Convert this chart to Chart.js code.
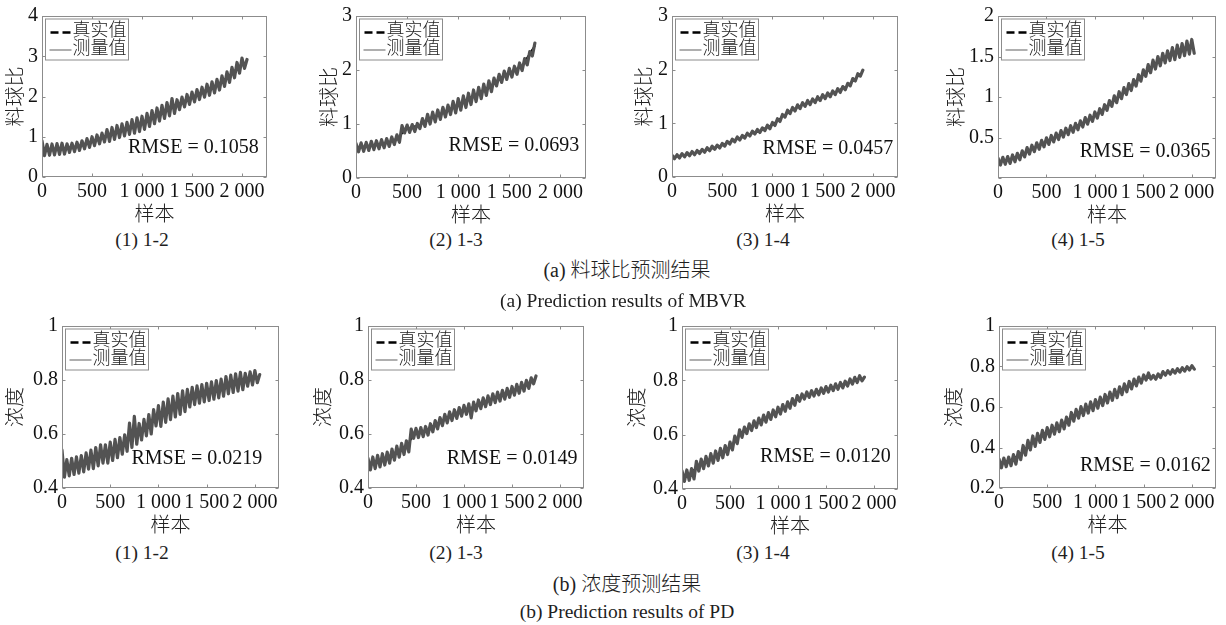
<!DOCTYPE html>
<html>
<head>
<meta charset="utf-8">
<script src="https://cdn.jsdelivr.net/npm/chart.js@4.4.1/dist/chart.umd.min.js"></script>
<style>
  html, body { margin: 0; padding: 0; background: #fff; }
  #fig { position: relative; width: 1226px; height: 625px; overflow: hidden; background: #fff; }
  #fig canvas { position: absolute; }
  .cap {
    position: absolute; transform: translate(-50%, -50%); white-space: nowrap;
    font-family: 'Liberation Serif', 'Noto Sans CJK SC', serif; font-size: 19.5px; font-weight: 300; color: #1e1e1e;
  }
</style>
</head>
<body>
<div id="fig"></div>
<script>
// ---------- data ----------
// Measured series are sampled every 25 samples, true series every 125 samples.
const MEAS_STEP = 25;
const TRUE_STEP = 125;

const xTickValues = [0, 500, 1000, 1500, 2000];
const xTickLabels = ['0', '500', '1 000', '1 500', '2 000'];

// MBVR (料球比)
const mbvr12Meas = [0.90,0.53,0.81,0.54,0.82,0.55,0.83,0.56,0.84,0.57,0.825,0.61,0.84,0.63,0.865,0.66,0.90,0.70,0.955,0.735,
  1.00,0.78,1.045,0.825,1.09,0.87,1.18,0.885,1.23,0.935,1.28,0.98,1.32,1.02,1.36,1.06,1.425,1.09,1.47,1.13,
  1.51,1.185,1.58,1.255,1.65,1.325,1.715,1.39,1.78,1.455,1.85,1.52,1.95,1.58,1.92,1.675,1.985,1.74,2.05,1.805,
  2.11,1.865,2.17,1.925,2.23,1.985,2.305,2.03,2.365,2.09,2.425,2.16,2.515,2.25,2.615,2.35,2.725,2.465,2.845,2.58,
  2.955,2.70,2.92];
const mbvr12True = [0.66,0.685,0.715,0.77,0.88,0.995,1.12,1.22,1.33,1.50,1.67,1.82,1.98,2.13,2.28,2.52,2.81];

const mbvr13Meas = [0.64,0.485,0.65,0.495,0.66,0.51,0.68,0.525,0.69,0.54,0.71,0.56,0.73,0.585,0.76,0.62,0.80,0.66,0.97,0.835,
  0.98,0.845,0.99,0.86,1.01,0.915,1.10,0.955,1.18,1.00,1.22,1.04,1.26,1.085,1.31,1.13,1.35,1.175,1.42,1.205,
  1.47,1.255,1.52,1.305,1.57,1.36,1.63,1.415,1.68,1.47,1.74,1.53,1.80,1.60,1.85,1.705,1.92,1.77,1.98,1.825,
  2.03,1.87,2.07,1.92,2.13,1.99,2.21,2.095,2.34,2.26,2.50];
const mbvr13True = [0.56,0.59,0.63,0.70,0.91,0.99,1.12,1.23,1.35,1.48,1.62,1.79,1.94,2.08,2.45];

const mbvr14Meas = [0.405,0.34,0.415,0.355,0.435,0.375,0.455,0.395,0.475,0.415,0.495,0.437,0.515,0.46,0.545,0.49,0.575,0.515,0.595,0.54,
  0.625,0.575,0.665,0.615,0.705,0.655,0.745,0.69,0.775,0.725,0.815,0.765,0.855,0.80,0.885,0.83,0.915,0.865,0.965,0.90,
  1.015,0.96,1.085,1.035,1.165,1.115,1.245,1.18,1.295,1.23,1.345,1.275,1.385,1.315,1.425,1.35,1.455,1.385,1.495,1.425,
  1.535,1.46,1.565,1.495,1.605,1.535,1.645,1.575,1.685,1.625,1.745,1.70,1.835,1.79,1.925,1.88,1.99];
const mbvr14True = [0.37,0.41,0.46,0.52,0.59,0.69,0.78,0.86,0.97,1.16,1.30,1.39,1.49,1.58,1.70,1.92];

const mbvr15Meas = [0.245,0.16,0.255,0.17,0.265,0.18,0.285,0.20,0.305,0.225,0.335,0.26,0.375,0.295,0.405,0.325,0.435,0.355,0.465,0.385,
  0.495,0.415,0.525,0.445,0.555,0.475,0.585,0.505,0.615,0.535,0.645,0.565,0.675,0.595,0.705,0.63,0.745,0.665,0.775,0.70,
  0.815,0.74,0.855,0.785,0.905,0.835,0.955,0.885,1.015,0.93,1.065,0.98,1.115,1.03,1.165,1.08,1.215,1.135,1.275,1.195,
  1.335,1.255,1.40,1.30,1.455,1.345,1.50,1.385,1.54,1.42,1.57,1.45,1.61,1.46,1.64,1.49,1.66,1.51,1.69,1.53,
  1.71,1.54];
const mbvr15True = [0.20,0.23,0.29,0.37,0.45,0.52,0.60,0.68,0.77,0.88,1.01,1.13,1.28,1.41,1.50,1.57,1.62];

// PD (浓度)
const pd12Meas = [0.54,0.44,0.505,0.445,0.51,0.45,0.515,0.455,0.52,0.46,0.53,0.47,0.54,0.472,0.55,0.482,0.56,0.492,0.56,0.492,
  0.57,0.502,0.58,0.512,0.587,0.525,0.597,0.536,0.64,0.55,0.665,0.562,0.639,0.578,0.654,0.593,0.672,0.60,0.69,0.63,
  0.705,0.628,0.718,0.643,0.73,0.653,0.74,0.663,0.75,0.673,0.76,0.683,0.765,0.70,0.773,0.709,0.778,0.714,0.783,0.719,
  0.788,0.724,0.793,0.729,0.798,0.734,0.803,0.74,0.813,0.749,0.818,0.754,0.823,0.759,0.828,0.764,0.825,0.777,0.83,0.782,
  0.835,0.79,0.82];
const pd12True = [0.47,0.483,0.50,0.52,0.535,0.56,0.592,0.629,0.665,0.695,0.72,0.742,0.755,0.767,0.785,0.797,0.81];

const pd13Meas = [0.51,0.467,0.515,0.472,0.521,0.478,0.527,0.485,0.533,0.492,0.544,0.503,0.555,0.514,0.565,0.524,0.575,0.534,0.618,0.584,
  0.621,0.587,0.624,0.59,0.628,0.596,0.638,0.608,0.65,0.619,0.661,0.631,0.673,0.641,0.682,0.65,0.69,0.658,0.698,0.666,
  0.706,0.673,0.712,0.66,0.718,0.686,0.726,0.694,0.734,0.701,0.741,0.709,0.749,0.716,0.755,0.722,0.762,0.729,0.769,0.736,
  0.776,0.744,0.784,0.751,0.791,0.759,0.799,0.769,0.808,0.786,0.815];
const pd13True = [0.488,0.502,0.522,0.55,0.603,0.615,0.643,0.668,0.688,0.704,0.723,0.74,0.758,0.777,0.806];

const pd14Meas = [0.467,0.428,0.47,0.432,0.475,0.437,0.502,0.466,0.51,0.475,0.52,0.485,0.53,0.495,0.54,0.505,0.55,0.515,0.56,0.527,
  0.573,0.544,0.595,0.567,0.618,0.59,0.628,0.604,0.64,0.615,0.651,0.626,0.661,0.636,0.672,0.646,0.681,0.656,0.691,0.666,
  0.701,0.676,0.711,0.686,0.721,0.697,0.733,0.708,0.744,0.723,0.75,0.731,0.757,0.737,0.762,0.742,0.767,0.747,0.772,0.752,
  0.777,0.757,0.782,0.762,0.787,0.767,0.792,0.772,0.797,0.779,0.805,0.786,0.811,0.792,0.817,0.798,0.812];
const pd14True = [0.445,0.47,0.50,0.525,0.553,0.606,0.636,0.661,0.686,0.712,0.739,0.753,0.766,0.778,0.794,0.808];

const pd15Meas = [0.343,0.30,0.348,0.305,0.353,0.31,0.365,0.318,0.38,0.34,0.41,0.362,0.435,0.388,0.457,0.405,0.47,0.425,0.485,0.44,
  0.498,0.453,0.51,0.466,0.522,0.478,0.535,0.492,0.55,0.51,0.573,0.53,0.588,0.545,0.602,0.558,0.614,0.57,0.625,0.582,
  0.637,0.594,0.649,0.607,0.662,0.62,0.674,0.633,0.687,0.646,0.70,0.661,0.714,0.675,0.726,0.689,0.738,0.704,0.748,0.718,
  0.758,0.733,0.768,0.738,0.756,0.737,0.763,0.745,0.775,0.757,0.779,0.762,0.784,0.767,0.789,0.772,0.794,0.777,0.799,0.783,
  0.804,0.787];
const pd15True = [0.32,0.335,0.38,0.435,0.472,0.503,0.548,0.583,0.613,0.645,0.679,0.713,0.743,0.748,0.77,0.782,0.795];

const rmseValues = ['0.1058', '0.0693', '0.0457', '0.0365', '0.0219', '0.0149', '0.0120', '0.0162'];
const subLabels = ['(1) 1-2', '(2) 1-3', '(3) 1-4', '(4) 1-5'];
const legendNames = ['真实值', '测量值'];

// ---------- panels ----------
const SERIF = "'Liberation Serif', 'Noto Sans CJK SC', serif";
const X_MAX = 2250;
const MEAS_COLOR = '#535353';
const AXIS_COLOR = '#8c8c8c';
const CJK_WEIGHT = 300;

const panels = [
  { meas: mbvr12Meas, truth: mbvr12True, yTitle: '料球比', yMin: 0, yMax: 4, yTicks: [0,1,2,3,4], yLabels: ['0','1','2','3','4'], rmseAt: [860, 0.72] },
  { meas: mbvr13Meas, truth: mbvr13True, yTitle: '料球比', yMin: 0, yMax: 3, yTicks: [0,1,2,3], yLabels: ['0','1','2','3'], rmseAt: [906, 0.60] },
  { meas: mbvr14Meas, truth: mbvr14True, yTitle: '料球比', yMin: 0, yMax: 3, yTicks: [0,1,2,3], yLabels: ['0','1','2','3'], rmseAt: [902, 0.53] },
  { meas: mbvr15Meas, truth: mbvr15True, yTitle: '料球比', yMin: 0, yMax: 2, yTicks: [0,0.5,1,1.5,2], yLabels: ['','0.5','1','1.5','2'], rmseAt: [844, 0.32] },
  { meas: pd12Meas, truth: pd12True, yTitle: '浓度', yMin: 0.4, yMax: 1, yTicks: [0.4,0.6,0.8,1], yLabels: ['0.4','0.6','0.8','1'], rmseAt: [720, 0.51] },
  { meas: pd13Meas, truth: pd13True, yTitle: '浓度', yMin: 0.4, yMax: 1, yTicks: [0.4,0.6,0.8,1], yLabels: ['0.4','0.6','0.8','1'], rmseAt: [820, 0.51] },
  { meas: pd14Meas, truth: pd14True, yTitle: '浓度', yMin: 0.4, yMax: 1, yTicks: [0.4,0.6,0.8,1], yLabels: ['0.4','0.6','0.8','1'], rmseAt: [813, 0.519] },
  { meas: pd15Meas, truth: pd15True, yTitle: '浓度', yMin: 0.2, yMax: 1, yTicks: [0.2,0.4,0.6,0.8,1], yLabels: ['0.2','0.4','0.6','0.8','1'], rmseAt: [840, 0.311] }
];

// Plot-area rectangles (L,T,R,B) and the x of each y-axis title centre, in page pixels.
const frames = [
  { L: 42,  T: 14,  R: 267,  B: 177, tx: 17 },
  { L: 356, T: 14,  R: 586,  B: 178, tx: 331 },
  { L: 672, T: 14,  R: 898,  B: 177, tx: 646 },
  { L: 998, T: 14,  R: 1216, B: 178, tx: 958 },
  { L: 62,  T: 324, R: 279,  B: 488, tx: 17 },
  { L: 368, T: 324, R: 584,  B: 488, tx: 325 },
  { L: 682, T: 324, R: 898,  B: 489, tx: 639 },
  { L: 999, T: 324, R: 1216, B: 488, tx: 956 }
];

// Box, inward tick marks, legend and RMSE annotation.
const framePlugin = {
  id: 'frame',
  afterDraw(chart, args, opts) {
    const ctx = chart.ctx;
    const a = chart.chartArea;
    const xs = chart.scales.x, ys = chart.scales.y;
    const L = Math.round(a.left) + 0.5, R = Math.round(a.right) - 0.5;
    const T = Math.round(a.top) + 0.5, B = Math.round(a.bottom) - 0.5;
    ctx.save();
    ctx.strokeStyle = AXIS_COLOR;
    ctx.lineWidth = 1;
    ctx.setLineDash([]);
    ctx.strokeRect(L, T, R - L, B - T);
    const tk = 3;
    ctx.beginPath();
    xTickValues.forEach(v => {
      const px = Math.round(xs.getPixelForValue(v)) + 0.5;
      ctx.moveTo(px, B); ctx.lineTo(px, B - tk);
      ctx.moveTo(px, T); ctx.lineTo(px, T + tk);
    });
    opts.yTicks.forEach(v => {
      const py = Math.round(ys.getPixelForValue(v)) + 0.5;
      ctx.moveTo(L, py); ctx.lineTo(L + tk, py);
      ctx.moveTo(R, py); ctx.lineTo(R - tk, py);
    });
    ctx.stroke();

    // legend box
    const lx = L + 3, ly = T + 2.5, lw = 83, lh = 41;
    ctx.fillStyle = '#fff';
    ctx.fillRect(lx, ly, lw, lh);
    ctx.strokeStyle = AXIS_COLOR;
    ctx.strokeRect(lx, ly, lw, lh);
    const r1 = ly + 13.5, r2 = ly + 31;
    ctx.strokeStyle = '#000';
    ctx.lineWidth = 2.5;
    ctx.setLineDash([8, 4]);
    ctx.beginPath(); ctx.moveTo(lx + 5, r1); ctx.lineTo(lx + 26, r1); ctx.stroke();
    ctx.setLineDash([]);
    ctx.strokeStyle = '#7a7a7a';
    ctx.lineWidth = 1.2;
    ctx.beginPath(); ctx.moveTo(lx + 4, r2); ctx.lineTo(lx + 26, r2); ctx.stroke();
    ctx.fillStyle = '#222';
    ctx.font = CJK_WEIGHT + " 18px " + SERIF;
    ctx.textAlign = 'left';
    ctx.textBaseline = 'middle';
    ctx.fillText(legendNames[0], lx + 27, r1 - 1);
    ctx.fillText(legendNames[1], lx + 27, r2 - 1);

    // RMSE annotation in data coordinates
    ctx.font = "20px " + SERIF;
    ctx.fillStyle = '#111';
    ctx.fillText('RMSE = ' + opts.rmse, xs.getPixelForValue(opts.rmseAt[0]), ys.getPixelForValue(opts.rmseAt[1]));
    ctx.restore();
  }
};

const fig = document.getElementById('fig');

panels.forEach((p, k) => {
  const f = frames[k];
  const cL = f.tx - 12, cT = f.T - 14, cR = Math.min(f.R + 10, 1226), cB = f.B + 51;
  const cw = cR - cL, chh = cB - cT;
  const canvas = document.createElement('canvas');
  canvas.width = cw; canvas.height = chh;
  canvas.style.left = cL + 'px'; canvas.style.top = cT + 'px';
  canvas.style.width = cw + 'px'; canvas.style.height = chh + 'px';
  fig.appendChild(canvas);
  const yW = f.L - cL, xH = cB - f.B, padR = cR - f.R;

  new Chart(canvas, {
    type: 'line',
    data: {
      datasets: [
        { label: legendNames[1], data: p.meas.map((v, i) => ({ x: i * MEAS_STEP, y: v })),
          borderColor: MEAS_COLOR, borderWidth: 3.2, borderJoinStyle: 'round', borderCapStyle: 'round',
          pointRadius: 0, tension: 0, fill: false },
        { label: legendNames[0], data: p.truth.map((v, i) => ({ x: i * TRUE_STEP, y: v })),
          borderColor: '#000', borderWidth: 2, borderDash: [8, 4], pointRadius: 0, tension: 0, fill: false }
      ]
    },
    options: {
      responsive: false, animation: false, devicePixelRatio: 1,
      layout: { padding: { left: 0, top: 14, right: padR, bottom: 0 } },
      plugins: {
        legend: { display: false }, tooltip: { enabled: false },
        frame: { yTicks: p.yTicks, rmse: rmseValues[k], rmseAt: p.rmseAt }
      },
      scales: {
        x: {
          type: 'linear', min: 0, max: X_MAX,
          grid: { display: false, drawTicks: false }, border: { display: false },
          afterBuildTicks: s => { s.ticks = xTickValues.map(v => ({ value: v })); },
          afterFit: s => { s.height = xH; },
          ticks: { callback: (v, i) => xTickLabels[i], autoSkip: false, maxRotation: 0, minRotation: 0,
                   padding: 3, color: '#111', font: { family: SERIF, size: 20 } },
          title: { display: true, text: '样本', color: '#222', padding: 0,
                   font: { family: SERIF, size: 20, weight: CJK_WEIGHT } }
        },
        y: {
          type: 'linear', min: p.yMin, max: p.yMax,
          grid: { display: false, drawTicks: false }, border: { display: false },
          afterBuildTicks: s => { s.ticks = p.yTicks.map(v => ({ value: v })); },
          afterFit: s => { s.width = yW; },
          ticks: { callback: (v, i) => p.yLabels[i], autoSkip: false, padding: 4, color: '#111',
                   font: { family: SERIF, size: 20 } },
          title: { display: true, text: p.yTitle, color: '#222', padding: 0,
                   font: { family: SERIF, size: 20, weight: CJK_WEIGHT } }
        }
      }
    },
    plugins: [framePlugin]
  });
});

// ---------- captions ----------
function caption(text, x, y, size) {
  const d = document.createElement('div');
  d.className = 'cap';
  d.textContent = text;
  d.style.left = x + 'px';
  d.style.top = y + 'px';
  if (size) d.style.fontSize = size + 'px';
  fig.appendChild(d);
}
const subX = [142, 456, 763, 1078];
subLabels.forEach((t, i) => { caption(t, subX[i], 240); caption(t, subX[i], 553); });
caption('(a) 料球比预测结果', 627, 268, 20);
caption('(a) Prediction results of MBVR', 623, 301, 19.5);
caption('(b) 浓度预测结果', 627, 582, 20);
caption('(b) Prediction results of PD', 627, 612, 19.5);
</script>
</body>
</html>
